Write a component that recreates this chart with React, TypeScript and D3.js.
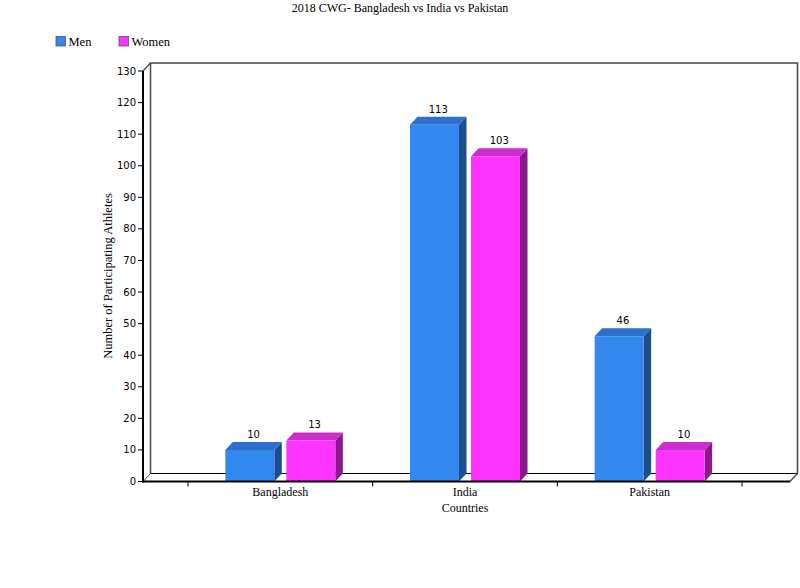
import React from "react";
import * as d3 from "d3";

const categories = ["Bangladesh", "India", "Pakistan"];
const seriesNames = ["Men", "Women"];
const menValues = [10, 113, 46];
const womenValues = [13, 103, 10];
const yTicks = [0, 10, 20, 30, 40, 50, 60, 70, 80, 90, 100, 110, 120, 130];
const title = "2018 CWG- Bangladesh vs India vs Pakistan";
const xTitle = "Countries";
const yTitle = "Number of Participating Athletes";

const colors = {
  Men: { front: "#3388EE", top: "#2C6FCC", side: "#1C4E8E" },
  Women: { front: "#FF33FF", top: "#CC2ECC", side: "#8A1A8A" },
};

const W = 800;
const H = 588;
const DX = 7.5;
const DY = 8;
const left = 143;
const right = 790;
const y0 = 481.5;
const yTop = 71;

export default function App() {
  const y = d3.scaleLinear().domain([0, 130]).range([y0, yTop]);
  const x0 = d3.scaleBand<string>().domain(categories).range([188, 742]);
  const bw = x0.bandwidth();
  const groupW = 110;
  const x1 = d3
    .scaleBand<string>()
    .domain(seriesNames)
    .range([(bw - groupW) / 2, (bw + groupW) / 2])
    .paddingInner(0.197);
  const barW = x1.bandwidth();
  const data = [menValues, womenValues];
  const serif = "'Liberation Serif', 'Times New Roman', serif";
  const sans = "'DejaVu Sans', Verdana, sans-serif";

  const tickXs = [...categories.map((c) => x0(c) as number), 742];

  return (
    <svg
      width={W}
      height={H}
      style={{ position: "absolute", left: 0, top: 0, background: "#fff" }}
    >
      <text x={400} y={12} textAnchor="middle" fontFamily={serif} fontSize={12} fill="#000">
        {title}
      </text>

      {/* legend */}
      {seriesNames.map((s, i) => {
        const lx = 56 + i * 63;
        return (
          <g key={s}>
            <rect
              x={lx}
              y={36.5}
              width={9.5}
              height={9.5}
              fill={colors[s as "Men" | "Women"].front}
              stroke="#555"
              strokeWidth={0.8}
            />
            <text x={lx + 12.5} y={46} fontFamily={serif} fontSize={12.5} fill="#000">
              {s}
            </text>
          </g>
        );
      })}

      {/* back wall */}
      <polyline
        points={`${left + DX},${y0 - DY} ${left + DX},${yTop - DY} ${right + DX},${yTop - DY} ${right + DX},${y0 - DY}`}
        fill="none"
        stroke="#444"
        strokeWidth={1.5}
      />
      <line x1={left + DX} y1={y0 - DY} x2={right + DX} y2={y0 - DY} stroke="#000" strokeWidth={1.2} />
      <line x1={left} y1={yTop} x2={left + DX} y2={yTop - DY} stroke="#444" strokeWidth={1.2} />
      <line x1={left} y1={y0} x2={left + DX} y2={y0 - DY} stroke="#444" strokeWidth={1} />
      <line x1={right} y1={y0} x2={right + DX} y2={y0 - DY} stroke="#444" strokeWidth={1.2} />

      {/* bars */}
      {categories.map((c, ci) =>
        seriesNames.map((s, si) => {
          const v = data[si][ci];
          const bx = (x0(c) as number) + (x1(s) as number);
          const by = y(v);
          const col = colors[s as "Men" | "Women"];
          const topPts = `${bx},${by} ${bx + DX},${by - DY} ${bx + barW + DX},${by - DY} ${bx + barW},${by}`;
          const sidePts = `${bx + barW},${by} ${bx + barW + DX},${by - DY} ${bx + barW + DX},${y0 - DY} ${bx + barW},${y0}`;
          return (
            <g key={c + s}>
              <polygon points={sidePts} fill={col.side} />
              <polygon points={topPts} fill={col.top} />
              <rect x={bx} y={by} width={barW} height={y0 - by} fill={col.front} />
              <text
                x={bx + barW / 2 + DX / 2}
                y={by - DY - 4}
                textAnchor="middle"
                fontFamily={sans}
                fontSize={10}
                fill="#000"
              >
                {v}
              </text>
            </g>
          );
        })
      )}

      {/* front axes */}
      <line x1={left} y1={yTop} x2={left} y2={y0 + 1} stroke="#000" strokeWidth={2} />
      <line x1={left - 1} y1={y0} x2={right} y2={y0} stroke="#000" strokeWidth={2} />

      {yTicks.map((t) => (
        <g key={t}>
          <line x1={left - 5} y1={y(t)} x2={left} y2={y(t)} stroke="#000" strokeWidth={1} />
          <text
            x={left - 7}
            y={y(t) + 3.5}
            textAnchor="end"
            fontFamily={sans}
            fontSize={10}
            fill="#000"
          >
            {t}
          </text>
        </g>
      ))}

      {tickXs.map((tx, i) => (
        <line key={i} x1={tx} y1={y0} x2={tx} y2={y0 + 5} stroke="#000" strokeWidth={1} />
      ))}

      {categories.map((c) => (
        <text
          key={c}
          x={(x0(c) as number) + bw / 2}
          y={496}
          textAnchor="middle"
          fontFamily={serif}
          fontSize={12}
          fill="#000"
        >
          {c}
        </text>
      ))}

      <text x={465} y={512} textAnchor="middle" fontFamily={serif} fontSize={12} fill="#000">
        {xTitle}
      </text>
      <text
        transform={`translate(112, 276) rotate(-90)`}
        textAnchor="middle"
        fontFamily={serif}
        fontSize={12.5}
        fill="#000"
      >
        {yTitle}
      </text>
    </svg>
  );
}
